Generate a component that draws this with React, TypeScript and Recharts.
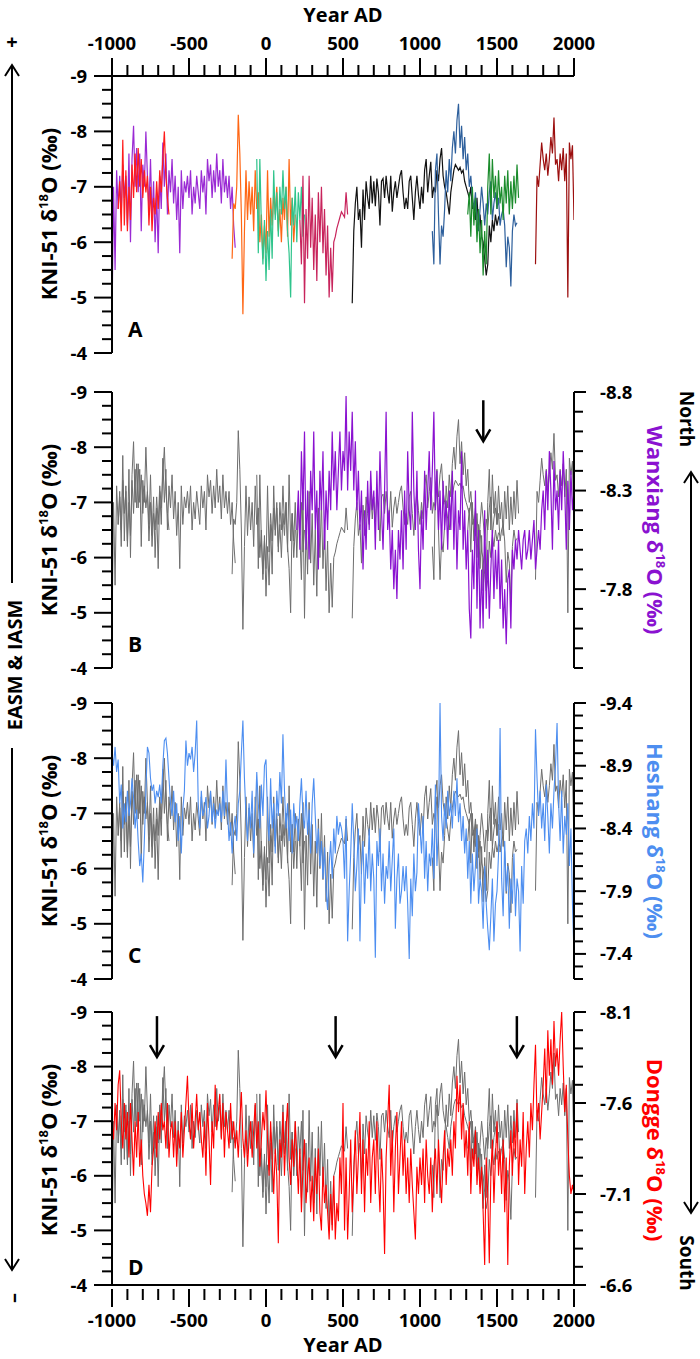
import React from "react";
import { LineChart, Line, XAxis, YAxis, ReferenceDot } from "recharts";

const FONT = "'Open Sans', 'DejaVu Sans', sans-serif";

// KNI-51 d18O segments (start year, 10-yr step)
const kniPurpleStart = -1000;
const kniPurple = [
  -4.6, -7.0, -5.5, -7.3, -6.6, -7.2, -6.5, -7.4, -6.8, -7.2,
  -6.3, -7.6, -6.0, -7.5, -8.1, -7.0, -7.7, -6.9, -7.6, -6.2,
  -7.4, -7.0, -8.0, -7.2, -6.6, -7.5, -6.4, -7.1, -6.0, -6.9,
  -5.8, -7.2, -6.6, -7.8, -7.0, -7.6, -6.5, -7.3, -6.9, -7.5,
  -6.7, -7.2, -6.4, -7.0, -5.8, -7.3, -6.6, -7.1, -6.9, -7.2,
  -6.8, -7.3, -6.5, -7.0, -6.7, -7.2, -6.9, -6.6, -7.3, -6.9,
  -7.2, -6.5, -7.5, -7.1, -7.4, -6.8, -7.3, -6.9, -7.6, -7.0,
  -7.3, -6.7, -7.5, -6.9, -7.2, -6.8, -7.2, -6.6, -7.0, -6.3,
  -5.9,
];
const kniRedStart = -960;
const kniRed = [
  -6.6, -7.1, -6.2, -7.85, -6.3, -7.3, -6.2, -7.0, -6.4, -7.4,
  -6.8, -7.6, -6.9, -7.7, -7.0, -7.5, -6.8, -7.3, -6.9, -7.2,
  -6.3, -7.0, -6.2, -6.8, -6.5, -7.1, -6.6, -7.3, -6.9, -7.5,
  -8.0, -7.2, -6.8, -6.5,
];
const kniOrangeStart = -220;
const kniOrange = [
  -5.7, -6.7, -6.6, -7.0, -8.3, -7.6, -6.5, -4.7, -6.2, -7.3,
  -6.4, -7.1, -6.5, -7.0, -6.2, -7.3, -6.6, -6.9, -6.0, -6.5,
  -5.7, -6.3, -5.8, -7.3, -6.1, -6.8, -6.3, -6.9, -6.5, -7.0,
  -6.2, -6.6, -6.0, -6.8, -6.4, -7.0, -6.1, -7.5, -6.3, -6.8,
  -6.0, -6.5,
];
const kniTealStart = -60;
const kniTeal = [
  -7.5, -5.8, -7.5, -6.3, -5.6, -6.4, -5.3, -6.2, -5.5, -6.6,
  -5.7, -7.3, -6.4, -6.9, -6.1, -7.0, -6.5, -7.3, -6.6, -7.0,
  -6.2, -5.8, -5.0, -6.8, -6.3, -7.0, -6.0, -6.9, -6.4, -7.0,
  -6.1, -6.5,
];
const kniCrimsonStart = 220;
const kniCrimson = [
  -6.4, -5.6, -7.2, -4.9, -6.6, -5.7, -7.2, -5.9, -6.8, -5.5,
  -6.5, -5.3, -6.9, -6.0, -7.0, -5.8, -6.6, -5.4, -6.3, -5.0,
  -5.9, -5.1, -6.0, -6.1, -6.25, -6.35, -6.45, -6.55, -6.5, -6.45,
  -6.9, -6.5,
];
const kniBlackStart = 560;
const kniBlack = [
  -4.9, -6.2, -6.7, -7.0, -6.4, -6.6, -5.9, -6.95, -6.4, -7.1,
  -6.8, -6.6, -7.2, -6.7, -7.1, -6.65, -7.15, -6.9, -6.3, -7.1,
  -7.15, -6.8, -7.2, -6.9, -6.7, -7.2, -6.55, -6.9, -7.1, -6.8,
  -7.0, -7.2, -7.3, -6.9, -6.6, -6.8, -6.6, -7.1, -7.2, -6.8,
  -6.4, -6.9, -7.2, -6.85, -6.6, -7.0, -6.7, -7.3, -7.5, -6.9,
  -7.2, -7.45, -6.8, -7.0, -6.9, -7.3, -7.1, -7.5, -7.7, -7.2,
  -7.0, -6.9, -6.7, -6.5, -6.9, -7.1, -7.3, -7.4, -7.35, -7.3,
  -7.35, -7.25, -7.3, -7.1, -7.0, -6.9, -6.8, -7.0, -6.6, -6.7,
  -6.4, -6.8, -6.3, -6.5, -6.1, -6.0, -5.7, -5.4, -5.6, -6.3,
  -6.0, -6.4, -6.2, -6.5, -6.3, -6.45, -6.4,
];
const kniBlueStart = 1080;
const kniBlue = [
  -6.2, -5.6, -7.3, -7.6, -6.5, -5.6, -6.3, -6.1, -6.6, -7.3,
  -6.9, -7.5, -7.1, -7.7, -8.0, -7.6, -8.2, -8.5, -7.7, -8.1,
  -7.5, -7.9, -7.3, -7.6, -7.0, -7.2, -6.8, -6.6, -6.9, -6.4,
  -6.2, -6.6, -7.0, -6.7, -6.3, -6.7, -6.5, -6.9, -7.1, -6.4,
  -6.7, -6.9, -6.6, -6.8, -6.3, -6.5, -6.6, -6.3, -5.55, -6.1,
  -5.9, -5.2, -6.2, -6.5, -6.3, -6.35,
];
const kniGreenStart = 1310;
const kniGreen = [
  -6.5, -6.9, -6.1, -7.0, -6.3, -6.8, -6.0, -6.6, -5.8, -6.4,
  -5.4, -6.2, -5.6, -7.0, -7.6, -6.5, -7.5, -6.8, -7.2, -6.6,
  -7.3, -6.7, -7.0, -6.4, -7.2, -6.7, -7.3, -6.5, -7.1, -6.6,
  -7.2, -6.7, -7.4, -6.8,
];
const kniDarkRedStart = 1750;
const kniDarkRed = [
  -5.6, -7.2, -7.0, -7.4, -7.8, -7.5, -7.3, -7.6, -7.2, -7.5,
  -7.9, -7.6, -8.25, -7.4, -7.5, -7.1, -7.6, -7.3, -7.7, -7.1,
  -7.6, -5.0, -7.8, -7.5, -7.75, -6.4,
];

// Wanxiang d18O (AD 200-2000, 10-yr step)
const wanxiangStart = 200;
const wanxiang = [
  -8.1, -8.3, -8.0, -8.5, -8.2, -8.6, -8.0, -8.3, -7.95, -8.4,
  -8.2, -8.6, -8.1, -8.3, -7.9, -8.4, -8.2, -8.5, -8.0, -8.3,
  -8.1, -8.4, -8.2, -8.6, -8.3, -8.5, -8.2, -8.4, -8.6, -8.3,
  -8.5, -8.4, -8.78, -8.3, -8.6, -8.4, -8.7, -8.3, -8.55, -8.2,
  -8.4, -8.1, -8.3, -7.9, -8.2, -8.0, -8.35, -8.1, -8.4, -8.2,
  -8.3, -8.0, -8.4, -8.1, -8.5, -8.2, -8.0, -8.3, -8.7, -8.1,
  -8.2, -7.9, -8.1, -7.8, -8.0, -7.75, -8.1, -7.95, -8.2, -7.9,
  -8.3, -8.0, -8.5, -8.2, -8.1, -8.7, -8.3, -8.1, -8.4, -8.0,
  -7.8, -8.2, -8.0, -8.4, -8.1, -8.3, -8.5, -8.2, -8.4, -8.7,
  -8.2, -8.4, -8.1, -8.3, -8.0, -8.35, -8.1, -8.25, -8.0, -8.3,
  -8.1, -8.4, -8.0, -8.3, -7.9, -8.2, -8.1, -8.5, -8.0, -8.2,
  -7.9, -8.1, -7.7, -7.55, -8.0, -7.8, -8.3, -7.7, -8.1, -7.6,
  -7.9, -7.6, -8.2, -7.7, -8.0, -7.65, -7.9, -8.1, -7.75, -8.0,
  -7.8, -8.05, -7.7, -7.95, -7.6, -7.8, -7.52, -7.85, -7.9, -7.6,
  -8.0, -7.9, -8.05, -7.95, -8.1, -8.0, -7.9, -8.05, -8.1, -7.95,
  -8.0, -8.1, -7.95, -8.05, -8.15, -7.9, -8.0, -8.1, -8.0, -8.2,
  -8.3, -8.1, -8.4, -8.2, -8.5, -8.3, -8.0, -8.45, -8.2, -8.3,
  -8.1, -8.4, -8.2, -8.5, -8.3, -8.0, -8.35, -8.1, -8.4, -8.2,
  -8.3,
];

// Heshang d18O (1000 BC - AD 2000, 10-yr step)
const heshangStart = -1000;
const heshang = [
  -9.0, -8.9, -9.05, -8.85, -8.95, -8.6, -8.75, -8.4, -8.6, -8.45,
  -8.7, -8.5, -8.6, -8.8, -8.65, -8.4, -8.55, -8.3, -8.1, -8.2,
  -7.97, -8.3, -8.7, -9.05, -9.0, -8.8, -8.7, -8.75, -8.6, -8.7,
  -8.65, -8.75, -8.6, -8.9, -9.1, -9.12, -9.0, -8.8, -8.6, -8.5,
  -8.7, -8.45, -8.6, -8.3, -8.5, -8.2, -8.55, -8.7, -9.1, -8.9,
  -9.0, -8.95, -9.05, -8.85, -9.0, -9.26, -8.6, -8.4, -8.7, -8.5,
  -8.55, -8.65, -8.4, -8.5, -8.7, -8.45, -8.6, -8.4, -8.55, -8.5,
  -8.6, -8.45, -8.7, -8.5, -8.95, -8.55, -8.3, -8.45, -8.2, -8.4,
  -8.5, -8.3, -8.6, -8.7, -9.0, -9.26, -8.8, -8.5, -8.3, -8.6,
  -8.4, -8.7, -8.2, -8.5, -8.85, -8.6, -8.4, -8.75, -8.5, -8.9,
  -8.95, -8.5, -8.3, -8.8, -8.4, -8.6, -8.2, -8.7, -8.5, -8.85,
  -8.6, -9.15, -8.7, -8.4, -8.6, -8.3, -8.55, -8.2, -8.6, -8.4,
  -8.5, -8.3, -8.6, -8.8, -8.5, -8.4, -8.7, -8.35, -8.55, -8.2,
  -8.6, -8.8, -8.5, -8.2, -8.4, -8.1, -8.3, -8.0, -8.25, -7.9,
  -7.75, -8.1, -8.3, -8.0, -8.4, -8.2, -8.5, -8.35, -8.45, -8.4,
  -8.3, -8.0, -8.5, -7.5, -7.9, -8.2, -8.6, -8.3, -7.9, -8.1,
  -8.4, -7.5, -8.1, -8.3, -7.8, -8.2, -8.0, -8.4, -7.9, -8.2,
  -8.0, -7.37, -8.3, -8.1, -8.4, -7.9, -8.2, -7.8, -8.1, -8.0,
  -8.3, -7.9, -8.15, -8.4, -7.6, -8.0, -8.2, -7.8, -7.9, -8.1,
  -7.9, -8.1, -7.8, -7.36, -8.0, -7.7, -8.2, -7.9, -8.05, -8.6,
  -8.4, -8.2, -8.5, -8.0, -8.3, -7.9, -8.2, -8.1, -8.4, -8.0,
  -8.75, -8.1, -8.4, -9.4, -8.5, -8.3, -8.6, -8.4, -8.7, -8.5,
  -8.6, -8.4, -8.7, -8.5, -8.8, -8.45, -8.6, -8.3, -8.5, -8.2,
  -8.4, -8.0, -8.3, -7.8, -8.2, -7.9, -8.1, -8.4, -7.8, -8.0,
  -7.9, -7.6, -8.1, -7.8, -7.6, -7.43, -7.7, -8.0, -7.5, -7.8,
  -7.9, -8.2, -9.2, -8.0, -7.7, -8.3, -7.9, -8.1, -7.6, -8.0,
  -7.8, -8.2, -7.7, -8.0, -7.9, -7.42, -8.1, -7.8, -8.3, -8.4,
  -8.2, -8.5, -8.3, -8.6, -8.4, -9.19, -8.8, -8.5, -8.7, -8.4,
  -8.6, -8.3, -8.75, -8.5, -8.2, -8.6, -8.4, -8.7, -8.9, -9.24,
  -8.6, -8.3, -8.7, -8.2, -8.5, -8.35, -8.6, -8.1, -8.4, -7.8,
  -7.39,
];

// Dongge d18O (1000 BC - AD 2000, 10-yr step)
const donggeStart = -1000;
const dongge = [
  -7.5, -7.4, -7.6, -7.45, -7.7, -7.78, -7.5, -7.35, -7.6, -7.4,
  -7.55, -7.3, -7.6, -7.4, -7.2, -7.5, -7.3, -7.55, -7.25, -7.4,
  -7.2, -7.1, -7.05, -6.98, -7.15, -7.0, -7.25, -7.35, -7.5, -7.3,
  -7.55, -7.4, -7.6, -7.45, -7.5, -7.35, -7.6, -7.3, -7.45, -7.5,
  -7.3, -7.5, -7.25, -7.45, -7.35, -7.55, -7.3, -7.45, -7.6, -7.75,
  -7.5, -7.4, -7.6, -7.35, -7.5, -7.65, -7.45, -7.55, -7.4, -7.3,
  -7.5, -7.2, -7.6, -7.4, -7.15, -7.5, -7.35, -7.7, -7.45, -7.55,
  -7.65, -7.4, -7.6, -7.3, -7.55, -7.45, -7.35, -7.6, -7.4, -7.5,
  -7.35, -7.45, -7.3, -7.5, -7.66, -7.4, -7.3, -7.45, -7.25, -7.4,
  -7.5, -7.3, -7.45, -7.6, -7.35, -7.5, -7.25, -7.4, -7.55, -7.45,
  -7.67, -7.4, -7.2, -7.5, -7.3, -7.1, -7.35, -7.2, -6.83, -7.4,
  -7.3, -7.55, -7.2, -7.45, -7.6, -7.3, -7.15, -7.4, -7.25, -7.5,
  -7.3, -7.1, -7.35, -7.0, -7.25, -7.4, -7.05, -7.2, -7.3, -7.0,
  -7.2, -6.95, -7.3, -7.1, -7.35, -7.0, -6.9, -7.25, -7.05, -7.15,
  -7.0, -6.85, -7.1, -6.9, -7.2, -6.85, -7.05, -6.95, -7.3, -7.1,
  -7.6, -6.9, -7.3, -6.85, -7.1, -7.4, -7.0, -7.2, -7.45, -7.1,
  -7.3, -7.55, -7.1, -7.4, -7.0, -7.35, -7.2, -7.5, -7.05, -7.3,
  -7.4, -7.1, -7.5, -7.2, -7.0, -7.35, -7.15, -6.77, -7.3, -7.5,
  -7.7, -7.2, -7.45, -7.0, -7.35, -7.55, -7.1, -7.3, -7.5, -7.2,
  -7.4, -7.1, -7.3, -7.05, -7.35, -7.15, -7.0, -6.85, -7.25, -7.1,
  -7.3, -7.15, -7.35, -7.05, -7.4, -7.2, -7.1, -7.3, -7.0, -7.25,
  -7.35, -7.1, -7.4, -7.2, -7.05, -7.3, -7.45, -7.15, -7.35, -7.25,
  -7.4, -7.2, -7.5, -7.35, -7.75, -7.55, -7.7, -7.4, -7.6, -7.3,
  -7.45, -7.2, -7.5, -7.1, -7.35, -7.25, -7.45, -7.15, -7.3, -7.1,
  -7.25, -7.0, -6.71, -7.3, -7.1, -6.72, -7.2, -7.4, -7.05, -7.3,
  -7.5, -7.2, -7.35, -7.1, -7.4, -7.0, -7.3, -6.71, -7.25, -7.45,
  -7.2, -7.5, -7.3, -7.6, -7.15, -7.4, -7.25, -7.55, -7.1, -7.35,
  -7.5, -7.3, -7.6, -7.45, -7.7, -7.92, -7.5, -7.6, -7.4, -7.55,
  -7.7, -7.9, -7.6, -8.0, -7.75, -7.95, -7.7, -8.05, -7.8, -7.9,
  -7.75, -7.95, -8.1, -7.8, -7.55, -7.7, -7.4, -7.2, -7.1, -7.15,
  -7.1,
];

// axes
const yearTicks = [
  -1000, -900, -800, -700, -600, -500, -400, -300, -200, -100, 0, 100, 200,
  300, 400, 500, 600, 700, 800, 900, 1000, 1100, 1200, 1300, 1400, 1500, 1600,
  1700, 1800, 1900, 2000,
];
const yearLabels = [-1000, -500, 0, 500, 1000, 1500, 2000];
const kniTicks = [
  -9, -8.75, -8.5, -8.25, -8, -7.75, -7.5, -7.25, -7, -6.75, -6.5, -6.25, -6,
  -5.75, -5.5, -5.25, -5, -4.75, -4.5, -4.25, -4,
];
const kniLabels = [-9, -8, -7, -6, -5, -4];
const wanxiangTicks = [
  -8.8, -8.7, -8.6, -8.5, -8.4, -8.3, -8.2, -8.1, -8.0, -7.9, -7.8, -7.7, -7.6,
  -7.5, -7.4,
];
const wanxiangLabels = [-8.8, -8.3, -7.8];
const heshangTicks = [
  -9.4, -9.3, -9.2, -9.1, -9.0, -8.9, -8.8, -8.7, -8.6, -8.5, -8.4, -8.3, -8.2,
  -8.1, -8.0, -7.9, -7.8, -7.7, -7.6, -7.5, -7.4, -7.3, -7.2,
];
const heshangLabels = [-9.4, -8.9, -8.4, -7.9, -7.4];
const donggeTicks = [
  -8.1, -8.0, -7.9, -7.8, -7.7, -7.6, -7.5, -7.4, -7.3, -7.2, -7.1, -7.0, -6.9,
  -6.8, -6.7, -6.6,
];
const donggeLabels = [-8.1, -7.6, -7.1, -6.6];
const arrowYearsB = [1411];
const arrowYearsD = [-708, 452, 1629];

const toSeries = (start: number, values: number[]) =>
  values.map((v, i) => ({ year: start + i * 10, v }));

const kniSegments = [
  { key: "purple", color: "#9a2ad4", data: toSeries(kniPurpleStart, kniPurple) },
  { key: "red", color: "#ff1c1c", data: toSeries(kniRedStart, kniRed) },
  { key: "orange", color: "#ff6614", data: toSeries(kniOrangeStart, kniOrange) },
  { key: "teal", color: "#2fc48c", data: toSeries(kniTealStart, kniTeal) },
  { key: "crimson", color: "#c8245c", data: toSeries(kniCrimsonStart, kniCrimson) },
  { key: "black", color: "#111111", data: toSeries(kniBlackStart, kniBlack) },
  { key: "blue", color: "#2d5f9c", data: toSeries(kniBlueStart, kniBlue) },
  { key: "green", color: "#1b8c2c", data: toSeries(kniGreenStart, kniGreen) },
  { key: "darkred", color: "#9c0f0f", data: toSeries(kniDarkRedStart, kniDarkRed) },
];
const wanxiangData = toSeries(wanxiangStart, wanxiang);
const heshangData = toSeries(heshangStart, heshang);
const donggeData = toSeries(donggeStart, dongge);

const PLOT_L = 112;
const PLOT_R = 574;
const GREY = "#6e6e6e";
const TICK_FS = 18.5;

const txt = { fontFamily: FONT, fontWeight: 700, fill: "#000" } as const;

function makeXTick(axisY: number, dir: number, labelY: number) {
  return (props: any) => {
    const { x, payload } = props;
    const v = payload.value;
    const major = yearLabels.includes(v);
    return (
      <g>
        <line x1={x} x2={x} y1={axisY} y2={axisY + dir * (major ? 18 : 11)} stroke="#000" strokeWidth={2} />
        {major && (
          <text x={x} y={labelY} textAnchor="middle" fontSize={TICK_FS} {...txt}>
            {v}
          </text>
        )}
      </g>
    );
  };
}

const leftTick = (props: any) => {
  const { y, payload } = props;
  const v = payload.value;
  const major = kniLabels.includes(v);
  return (
    <g>
      <line x1={PLOT_L - (major ? 18 : 10)} x2={PLOT_L} y1={y} y2={y} stroke="#000" strokeWidth={2} />
      {major && (
        <text x={87} y={y + 6.5} textAnchor="end" fontSize={TICK_FS} {...txt}>
          {v}
        </text>
      )}
    </g>
  );
};

function makeRightTick(labels: number[]) {
  return (props: any) => {
    const { y, payload } = props;
    const v = payload.value;
    const major = labels.some((l) => Math.abs(l - v) < 1e-6);
    return (
      <g>
        <line x1={PLOT_R} x2={PLOT_R + (major ? 12 : 9)} y1={y} y2={y} stroke="#000" strokeWidth={2} />
        {major && (
          <text x={600} y={y + 6.5} textAnchor="start" fontSize={TICK_FS} {...txt}>
            {v.toFixed(1)}
          </text>
        )}
      </g>
    );
  };
}

const DownArrow = (props: any) => {
  const { cx, cy } = props;
  return (
    <g>
      <line x1={cx} x2={cx} y1={cy - 21} y2={cy + 19} stroke="#000" strokeWidth={2.5} />
      <polyline points={`${cx - 7},${cy + 8} ${cx},${cy + 20} ${cx + 7},${cy + 8}`} fill="none" stroke="#000" strokeWidth={2.5} />
    </g>
  );
};

const axisLine = { stroke: "#000", strokeWidth: 2 };

function kniLines(grey: boolean) {
  return kniSegments.map((s) => (
    <Line
      key={s.key}
      yAxisId="l"
      data={s.data}
      dataKey="v"
      type="linear"
      stroke={grey ? GREY : s.color}
      strokeWidth={grey ? 1 : 1.2}
      dot={false}
      isAnimationActive={false}
    />
  ));
}

function leftYAxis() {
  return (
    <YAxis
      yAxisId="l"
      type="number"
      domain={[-9, -4]}
      reversed
      allowDataOverflow
      ticks={kniTicks}
      interval={0}
      tick={leftTick}
      tickLine={false}
      axisLine={axisLine}
      width={60}
    />
  );
}

function rightYAxis(domain: number[], ticks: number[], labels: number[]) {
  return (
    <YAxis
      yAxisId="r"
      orientation="right"
      type="number"
      domain={domain}
      reversed
      allowDataOverflow
      ticks={ticks}
      interval={0}
      tick={makeRightTick(labels)}
      tickLine={false}
      axisLine={axisLine}
      width={60}
    />
  );
}

function Label18({ x, y, rot, text, color }: any) {
  return (
    <text transform={`translate(${x},${y}) rotate(${rot})`} textAnchor="middle" fontSize={22} fontFamily={FONT} fontWeight={700} fill={color}>
      {text} δ
      <tspan fontSize={13} dy={-9}>18</tspan>
      <tspan dy={9}>O (‰)</tspan>
    </text>
  );
}

function Overlay() {
  return (
    <svg width={700} height={1359} style={{ position: "absolute", left: 0, top: 0, pointerEvents: "none" }}>
      <text x={343} y={22} textAnchor="middle" fontSize={20} {...txt}>Year AD</text>
      <text x={343} y={1352} textAnchor="middle" fontSize={20} {...txt}>Year AD</text>
      {/* panel letters */}
      <text x={128} y={337} fontSize={21} {...txt}>A</text>
      <text x={128} y={652} fontSize={21} {...txt}>B</text>
      <text x={128} y={963} fontSize={21} {...txt}>C</text>
      <text x={128} y={1275} fontSize={21} {...txt}>D</text>
      {/* left axis titles */}
      <Label18 x={57} y={214} rot={-90} text="KNI-51" color="#000" />
      <Label18 x={57} y={530} rot={-90} text="KNI-51" color="#000" />
      <Label18 x={57} y={841} rot={-90} text="KNI-51" color="#000" />
      <Label18 x={57} y={1150} rot={-90} text="KNI-51" color="#000" />
      {/* right axis titles */}
      <Label18 x={647} y={530} rot={90} text="Wanxiang" color="#8a12d0" />
      <Label18 x={647} y={841} rot={90} text="Heshang" color="#4d8ef0" />
      <Label18 x={647} y={1150} rot={90} text="Dongge" color="#ff0000" />
      {/* left monsoon arrow */}
      <text x={12} y={49} textAnchor="middle" fontSize={20} {...txt}>+</text>
      <text transform="translate(12,1298) rotate(-90)" textAnchor="middle" dominantBaseline="central" fontSize={20} {...txt}>–</text>
      <line x1={12} x2={12} y1={66} y2={583} stroke="#000" strokeWidth={2} />
      <line x1={12} x2={12} y1={748} y2={1269} stroke="#000" strokeWidth={2} />
      <polyline points="5,76 12,65 19,76" fill="none" stroke="#000" strokeWidth={2} />
      <polyline points="5,1259 12,1270 19,1259" fill="none" stroke="#000" strokeWidth={2} />
      <text transform="translate(22,665) rotate(-90)" textAnchor="middle" fontSize={20} {...txt}>EASM &amp; IASM</text>
      {/* right north-south arrow */}
      <text transform="translate(680,419) rotate(90)" textAnchor="middle" fontSize={19} {...txt}>North</text>
      <text transform="translate(680,1263) rotate(90)" textAnchor="middle" fontSize={19} {...txt}>South</text>
      <line x1={691} x2={691} y1={473} y2={1212} stroke="#000" strokeWidth={2} />
      <polyline points="684,483 691,472 698,483" fill="none" stroke="#000" strokeWidth={2} />
      <polyline points="684,1202 691,1213 698,1202" fill="none" stroke="#000" strokeWidth={2} />
    </svg>
  );
}

const pos = (top: number): React.CSSProperties => ({ position: "absolute", left: 0, top });

export default function App() {
  return (
    <div style={{ position: "absolute", left: 0, top: 0, width: 700, height: 1359, background: "#fff" }}>
      {/* A */}
      <div style={pos(0)}>
        <LineChart width={700} height={375} margin={{ top: 46, right: 126, bottom: 22, left: 52 }}>
          <XAxis
            orientation="top"
            type="number"
            dataKey="year"
            domain={[-1000, 2000]}
            allowDataOverflow
            ticks={yearTicks}
            interval={0}
            tick={makeXTick(76, -1, 50)}
            tickLine={false}
            axisLine={axisLine}
            height={30}
          />
          {leftYAxis()}
          {kniLines(false)}
        </LineChart>
      </div>
      {/* B */}
      <div style={pos(372)}>
        <LineChart width={700} height={310} margin={{ top: 20, right: 66, bottom: 14, left: 52 }}>
          <XAxis type="number" dataKey="year" domain={[-1000, 2000]} allowDataOverflow hide />
          {leftYAxis()}
          {rightYAxis([-8.8, -7.4], wanxiangTicks, wanxiangLabels)}
          {kniLines(true)}
          <Line yAxisId="r" data={wanxiangData} dataKey="v" stroke="#8a12d0" strokeWidth={1.2} dot={false} isAnimationActive={false} />
          {arrowYearsB.map((yr) => (
            <ReferenceDot key={yr} yAxisId="l" x={yr} y={-8.47} r={1} shape={DownArrow} />
          ))}
        </LineChart>
      </div>
      {/* C */}
      <div style={pos(684)}>
        <LineChart width={700} height={310} margin={{ top: 19, right: 66, bottom: 15, left: 52 }}>
          <XAxis type="number" dataKey="year" domain={[-1000, 2000]} allowDataOverflow hide />
          {leftYAxis()}
          {rightYAxis([-9.4, -7.2], heshangTicks, heshangLabels)}
          {kniLines(true)}
          <Line yAxisId="r" data={heshangData} dataKey="v" stroke="#4d8ef0" strokeWidth={1.1} dot={false} isAnimationActive={false} />
        </LineChart>
      </div>
      {/* D */}
      <div style={pos(996)}>
        <LineChart width={700} height={363} margin={{ top: 16, right: 66, bottom: 44, left: 52 }}>
          <XAxis
            type="number"
            dataKey="year"
            domain={[-1000, 2000]}
            allowDataOverflow
            ticks={yearTicks}
            interval={0}
            tick={makeXTick(293, 1, 331)}
            tickLine={false}
            axisLine={axisLine}
            height={30}
          />
          {leftYAxis()}
          {rightYAxis([-8.1, -6.6], donggeTicks, donggeLabels)}
          {kniLines(true)}
          <Line yAxisId="r" data={donggeData} dataKey="v" stroke="#ff0000" strokeWidth={1.1} dot={false} isAnimationActive={false} />
          {arrowYearsD.map((yr) => (
            <ReferenceDot key={yr} yAxisId="l" x={yr} y={-8.54} r={1} shape={DownArrow} />
          ))}
        </LineChart>
      </div>
      <Overlay />
    </div>
  );
}
